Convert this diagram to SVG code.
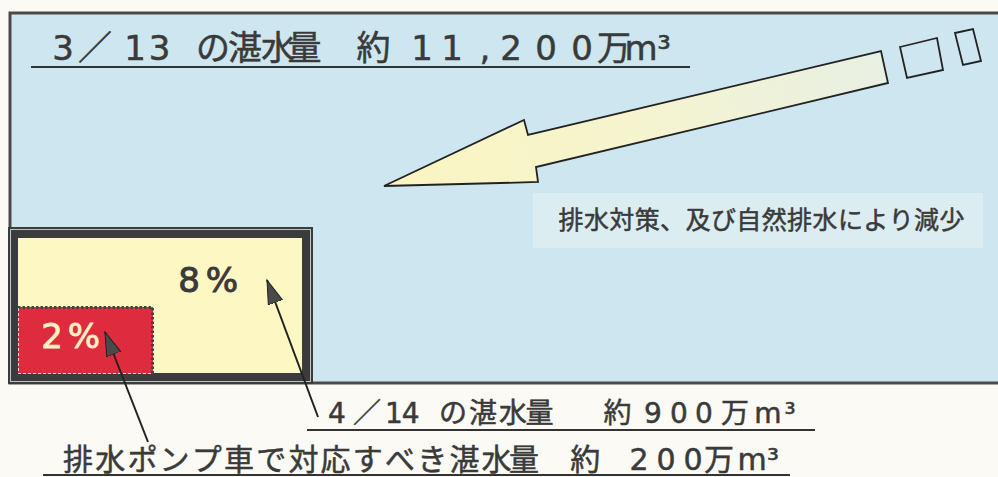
<svg xmlns="http://www.w3.org/2000/svg" width="998" height="477" viewBox="0 0 998 477">
<defs>
<style>
.t{font-family:"DejaVu Sans","Noto Sans CJK JP",sans-serif;fill:#3a3a3a;stroke:#3a3a3a;stroke-width:0.5;text-anchor:middle}
.ul{stroke:#333;stroke-width:2}
.cn{stroke:#222;stroke-width:2;fill:none}
</style>
<linearGradient id="ag" gradientUnits="userSpaceOnUse" x1="384" y1="186" x2="888" y2="67">
<stop offset="0" stop-color="#faf5c0"/>
<stop offset="0.5" stop-color="#f6f4cf"/>
<stop offset="1" stop-color="#e8f0e4"/>
</linearGradient>
<marker id="ah" markerUnits="userSpaceOnUse" markerWidth="26" markerHeight="18" refX="24" refY="9" orient="auto">
<path d="M0,1.5 L24,9 L0,16.5 Z" fill="#4a4a4a" stroke="#222" stroke-width="1"/>
</marker>
</defs>
<rect x="0" y="0" width="998" height="477" fill="#fbfaf4"/>
<g id="panel">
<rect x="10" y="13" width="995" height="370" fill="#cde6ef" stroke="#4a4a4a" stroke-width="3"/>
<text class="t" font-size="34"><tspan x="63 95 135 165" y="60">3／13</tspan> <tspan x="213 245 278 310" y="60">の湛水量</tspan> <tspan x="379" y="60">約</tspan> <tspan x="422 452 485 511 546 582 614 641 664" y="60">11,200万m³</tspan></text>
<line class="ul" x1="31" y1="67" x2="690" y2="67"/>
</g>
<g id="big-arrow">
<polygon points="384,186 524,120 528,135 881,51 888,83 536,167 538,182" fill="url(#ag)" stroke="#222" stroke-width="1.8" stroke-linejoin="miter"/>
<polygon points="900,47 937,38 943,70 907,78" fill="none" stroke="#222" stroke-width="1.8"/>
<polygon points="955,33 973,29 981,61 963,65" fill="none" stroke="#222" stroke-width="1.8"/>
</g>
<g id="reduction-label">
<rect x="533" y="193" width="450" height="55" fill="#dcedf2"/>
<text class="t" font-size="25"><tspan x="571 596.4 621.8 647.2 672.6 698 723.4 748.8 774.2 799.6 825 850.4 875.8 901.2 926.6 952" y="229">排水対策、及び自然排水により減少</tspan></text>
</g>
<g id="box-8">
<rect x="8" y="227" width="305" height="157" fill="#3c3c3c"/>
<rect x="10.5" y="229.5" width="300" height="152" fill="none" stroke="#b8c6ca" stroke-width="1"/>
<rect x="18" y="238" width="284" height="135" fill="#fcf7c3"/>
<text class="t" font-size="34" style="stroke-width:1"><tspan x="189 222" y="292">8%</tspan></text>
</g>
<g id="box-2">
<rect x="18" y="307" width="135" height="67" fill="#df2b3e"/>
<path d="M18,307.5 H152.5 V374" fill="none" stroke="#444" stroke-width="3" stroke-dasharray="2.5,2"/>
<path d="M18.5,308 V373.5 H152" fill="none" stroke="#fff" stroke-width="1" stroke-dasharray="3,2" opacity="0.8"/>
<text class="t" font-size="34" style="fill:#fbf0c4;stroke:#fbf0c4;stroke-width:0.8"><tspan x="52 84" y="348">2%</tspan></text>
</g>
<g id="connectors">
<line class="cn" x1="318" y1="417" x2="267" y2="280" marker-end="url(#ah)"/>
<line class="cn" x1="148" y1="442" x2="105" y2="332" marker-end="url(#ah)"/>
</g>
<g id="label-0414">
<text class="t" font-size="28"><tspan x="337 367 394 415" y="423">4／14</tspan> <tspan x="453 483 513 544" y="423">の湛水量</tspan> <tspan x="622" y="423">約</tspan> <tspan x="653 679 704 735 768 790" y="423">900万m³</tspan></text>
<line class="ul" x1="307" y1="430" x2="815" y2="430"/>
</g>
<g id="label-pump">
<text class="t" font-size="30"><tspan x="78 110.2 142.4 174.6 206.8 239 271.2 303.4 335.6 367.8 400 432.2 464.4 496.6 528.8" y="470">排水ポンプ車で対応すべき湛水量</tspan> <tspan x="590" y="470">約</tspan> <tspan x="639 666 693 719 752 773" y="470">200万m³</tspan></text>
<line class="ul" x1="43" y1="475" x2="790" y2="475"/>
</g>
</svg>
